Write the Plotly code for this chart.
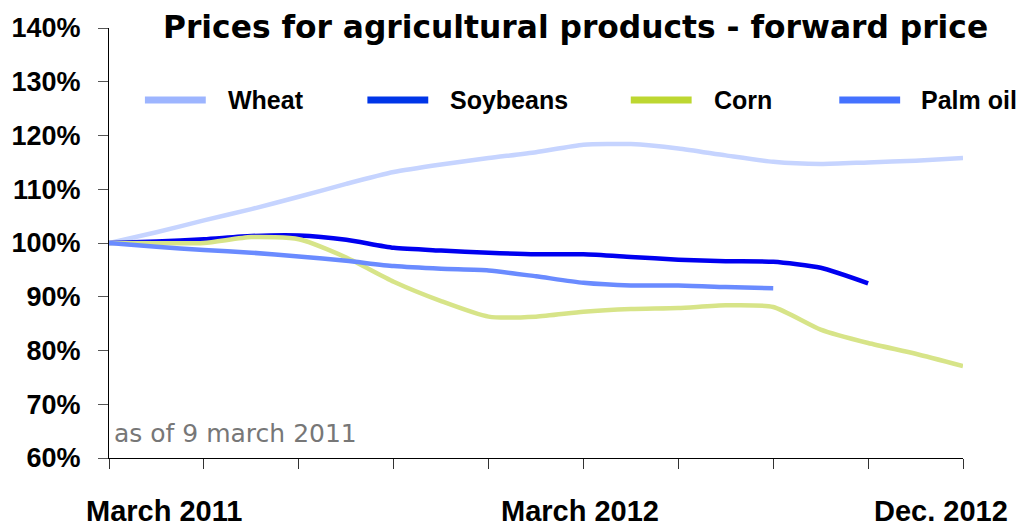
import plotly.graph_objects as go

# x positions: one step per half tick interval (tick interval = 1 unit)
x_pos = [i * 0.5 for i in range(19)]

wheat = [100, 102.0, 104.2, 106.3, 108.6, 111.0, 113.2, 114.6, 115.8, 116.9, 118.3, 118.4,
         117.6, 116.3, 115.1, 114.7, 115.0, 115.3, 115.8]
soybeans = [100, 100.3, 100.7, 101.3, 101.4, 100.6, 99.1, 98.6, 98.2, 97.9, 97.9, 97.4,
            96.9, 96.6, 96.5, 95.4, 92.5]
corn = [100, 99.95, 100.0, 101.1, 100.7, 97.3, 92.8, 89.2, 86.3, 86.3, 87.2, 87.7,
        87.9, 88.4, 88.1, 83.9, 81.4, 79.4, 77.1]
palm_oil = [100, 99.3, 98.7, 98.2, 97.5, 96.7, 95.7, 95.2, 94.9, 93.8, 92.6, 92.1,
            92.1, 91.8, 91.6]

series_names = ["Wheat", "Soybeans", "Corn", "Palm oil"]
series_values = [wheat, soybeans, corn, palm_oil]
line_colors = ["#C6D4FF", "#0000F0", "#D7E488", "#6A8BFF"]
legend_colors = ["#9DB5FF", "#0035E8", "#BDD731", "#4472FF"]

y_ticks = [60, 70, 80, 90, 100, 110, 120, 130, 140]
x_tick_labels = ["March 2011", "March 2012", "Dec. 2012"]

FONT = "Liberation Sans, Arial, sans-serif"
WIDE = "DejaVu Sans, Liberation Sans, sans-serif"

fig = go.Figure()
for name, vals, col in zip(series_names, series_values, line_colors):
    fig.add_trace(go.Scatter(
        x=x_pos[:len(vals)], y=vals, mode="lines", name=name,
        line=dict(color=col, width=4.5, shape="spline", smoothing=0.6),
        showlegend=False, hoverinfo="skip"))

L, R, T, B = 107, 69, 28, 71
W, H = 1032, 529
pw, ph = W - L - R, H - T - B

def px(xp):
    return (xp - L) / pw

def py(yp):
    return (H - B - yp) / ph

shapes = []
annotations = []
# custom legend
leg_line_x = [143, 366, 630, 839]
leg_text_x = [224, 447, 711, 919]
for name, col, lx, tx in zip(series_names, legend_colors, leg_line_x, leg_text_x):
    shapes.append(dict(type="line", xref="paper", yref="paper",
                       x0=px(lx), x1=px(lx + 61), y0=py(100), y1=py(100),
                       line=dict(color=col, width=7)))
    annotations.append(dict(text=name, xref="paper", yref="paper", x=px(tx), y=py(100),
                            xanchor="left", yanchor="middle", showarrow=False,
                            font=dict(family=FONT, size=25, color="black", weight="bold")))

# title
annotations.append(dict(text="Prices for agricultural products - forward price",
                        xref="paper", yref="paper", x=px(575), y=py(27),
                        xanchor="center", yanchor="middle", showarrow=False,
                        font=dict(family=WIDE, size=31.3, color="black", weight="bold")))
# note
annotations.append(dict(text="as of 9 march 2011", xref="paper", yref="paper",
                        x=px(110), y=py(433), xanchor="left", yanchor="middle",
                        showarrow=False, font=dict(family=WIDE, size=25, color="#777777")))
# x labels
for lab, cx in zip(x_tick_labels, [162, 579, 941]):
    annotations.append(dict(text=lab, xref="paper", yref="paper", x=px(cx), y=py(511),
                            xanchor="center", yanchor="middle", showarrow=False,
                            font=dict(family=FONT, size=29, color="black", weight="bold")))

fig.update_layout(
    width=W, height=H,
    margin=dict(l=L, r=R, t=T, b=B),
    paper_bgcolor="white", plot_bgcolor="white",
    shapes=shapes, annotations=annotations,
    xaxis=dict(range=[0, 9], tickmode="array", tickvals=list(range(10)),
               showticklabels=False, ticks="outside", ticklen=10, tickcolor="#333333",
               showline=True, linecolor="black", linewidth=1, showgrid=False,
               zeroline=False),
    yaxis=dict(range=[60, 140], tickmode="array", tickvals=y_ticks,
               ticktext=[f"{v}%" for v in y_ticks],
               ticks="outside", ticklen=10, tickcolor="#555555",
               ticklabelstandoff=12,
               showline=True, linecolor="black", linewidth=1, showgrid=False,
               zeroline=False,
               tickfont=dict(family=FONT, size=27, color="black", weight="bold")),
)

fig.write_html("out.html")
